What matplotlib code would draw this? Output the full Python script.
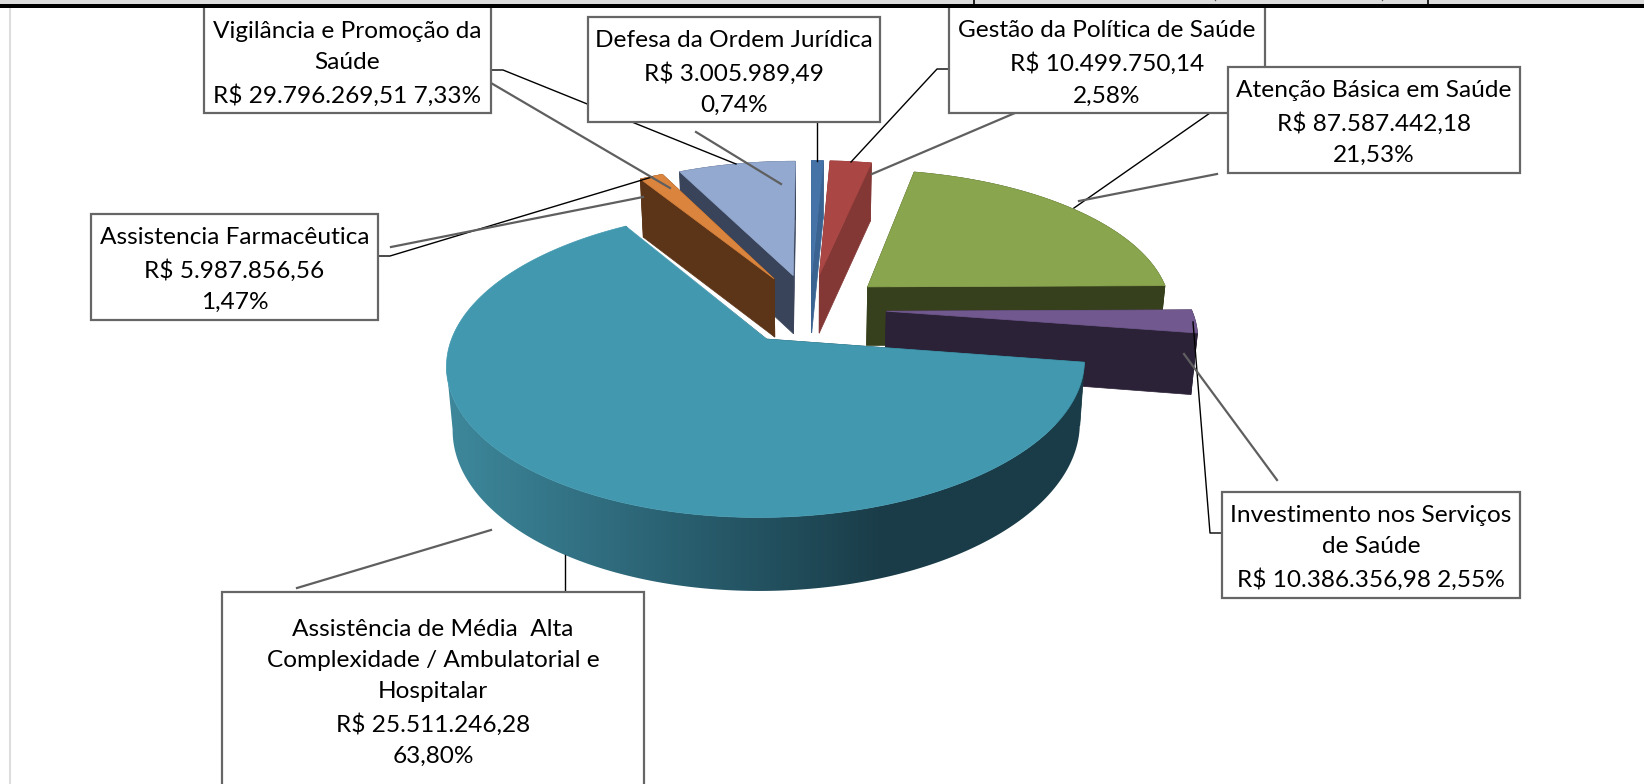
import numpy as np
import matplotlib
matplotlib.use("Agg")
import matplotlib.pyplot as plt
from matplotlib.patches import Polygon, Rectangle

plt.rcParams['font.family'] = ['Lato', 'DejaVu Sans']

# data, clockwise from 12 o'clock
names = ["Defesa da Ordem Jurídica",
         "Gestão da Política de Saúde",
         "Atenção Básica em Saúde",
         "Investimento nos Serviços\nde Saúde",
         "Assistência de Média  Alta\nComplexidade / Ambulatorial e\nHospitalar",
         "Assistencia Farmacêutica",
         "Vigilância e Promoção da\nSaúde"]
amounts = ["R$ 3.005.989,49", "R$ 10.499.750,14", "R$ 87.587.442,18",
           "R$ 10.386.356,98", "R$ 25.511.246,28", "R$ 5.987.856,56",
           "R$ 29.796.269,51"]
percents = [0.74, 2.58, 21.53, 2.55, 63.80, 1.47, 7.33]
one_line = [False, False, False, True, False, False, True]  # value and % on same line

top_colors = ["#4572a7", "#aa4643", "#89a54e", "#71588f", "#4198af", "#db843d", "#93a9cf"]
wall_colors = ["#3a6391", "#843836", "#37401c", "#2c2238", "#1a3c48", "#5c3417", "#39445a"]
draw_order = [6, 5, 0, 1, 2, 3, 4]  # back to front

# label boxes: left, top, right, bottom
boxes = [(588, 17, 880, 122), (949, 3, 1265, 113), (1228, 67, 1520, 173),
         (1222, 492, 1520, 598), (222, 592, 644, 810), (91, 214, 378, 320),
         (204, 3, 491, 113)]
text_y = [73, 63.5, 123, 548, 693, 270, 64]

# leader lines
black_lines = [[(491, 70), (503, 70), (736, 164)],
               [(817, 122), (817, 161)],
               [(378, 256), (390, 256), (652, 177)],
               [(949, 69), (937, 69), (851, 162)],
               [(1210, 113), (1074, 208)],
               [(1222, 533), (1210, 533), (1193, 322)],
               [(565, 555), (565, 592)]]
grey_lines = [[(491, 83), (670, 188)],
              [(696, 132), (781, 184)],
              [(391, 247), (643, 197)],
              [(1015, 113), (872, 174)],
              [(1217, 174), (1079, 201)],
              [(1184, 354), (1277, 480)],
              [(297, 588), (491, 530)]]

# pie geometry in pixels
cx, cy = 810, 308.7
rx, ry = 305, 141
persp = 0.152
depth = 60
explode = 0.25


def project(u, v, low=0.0):
    """Ground plane (u, v) to picture coordinates, low=1 is the bottom face."""
    s = 1 / (1 - persp * v)
    x = cx + rx * u * s * (1 - 0.017 * low)
    y = cy + ry * v * s + depth * low * np.maximum(s, 0.97)
    return x, y


def wall_shade(x):
    """Shading of the big slice's rim, light on the left, dark from x=885."""
    stops = [446, 655, 885]
    r = np.interp(x, stops, [0x3e, 0x2b, 0x1a])
    g = np.interp(x, stops, [0x88, 0x64, 0x3c])
    b = np.interp(x, stops, [0x9c, 0x75, 0x48])
    return np.stack([r, g, b], axis=-1) / 255


fig = plt.figure(figsize=(16.44, 7.84), dpi=100)
ax = fig.add_axes([0, 0, 1, 1])

bounds = np.concatenate([[0], np.cumsum(percents)]) / sum(percents) * 2 * np.pi

for i in draw_order:
    a0, a1 = bounds[i], bounds[i + 1]
    mid = (a0 + a1) / 2
    ou, ov = explode * np.sin(mid), -explode * np.cos(mid)
    ang = np.linspace(a0, a1, max(int(np.degrees(a1 - a0)) * 2, 4))
    u = ou + np.sin(ang)
    v = ov - np.cos(ang)

    # side walls
    for e_u, e_v in [(u[0], v[0]), (u[-1], v[-1])]:
        pts = [project(ou, ov), project(e_u, e_v), project(e_u, e_v, 1), project(ou, ov, 1)]
        ax.add_patch(Polygon(pts, closed=True, fc=wall_colors[i], ec=wall_colors[i], lw=0.5, zorder=2))

    # rim
    tx, ty = project(u, v)
    bx, by = project(u, v, 1)
    if i == 4:
        # only the part facing us, up to the left extreme, else the outline folds over itself
        k = np.argmin(tx) + 1
        rim = np.r_[np.c_[tx[:k], ty[:k]], np.c_[bx[:k], by[:k]][::-1]]
        rim_patch = Polygon(rim, closed=True, fc="none", ec="none", zorder=2)
        ax.add_patch(rim_patch)
        grad_x = np.linspace(rim[:, 0].min(), rim[:, 0].max(), 400)
        im = ax.imshow(wall_shade(grad_x)[np.newaxis, :, :], aspect="auto", zorder=2,
                       extent=[grad_x[0], grad_x[-1], rim[:, 1].max(), rim[:, 1].min()])
        im.set_clip_path(rim_patch)
    else:
        rim = np.r_[np.c_[tx, ty], np.c_[bx, by][::-1]]
        ax.add_patch(Polygon(rim, closed=True, fc=wall_colors[i], ec=wall_colors[i], lw=0.5, zorder=2))

    # top face
    xs, ys = project(np.r_[ou, u], np.r_[ov, v])
    if i == 4:
        ax.plot([xs[0] - 1, xs[-1] + 1], [ys[0] + 2, ys[-1] + 2], color="white", lw=3,
                zorder=2, solid_capstyle="butt")
    ax.add_patch(Polygon(np.c_[xs, ys], closed=True, fc=top_colors[i], ec=top_colors[i], lw=0.5, zorder=2))

for line in black_lines:
    pts = np.array(line)
    ax.plot(pts[:, 0], pts[:, 1], color="black", lw=1.0, zorder=3)
for line in grey_lines:
    pts = np.array(line)
    ax.plot(pts[:, 0], pts[:, 1], color="#5f5f5f", lw=1.6, zorder=3)

for i in [6, 0, 1, 2, 3, 5, 4]:
    l, t, r, b = boxes[i]
    ax.add_patch(Rectangle((l, t), r - l, b - t, fc="white", ec="#666666", lw=1.6, zorder=4))
    sep = " " if one_line[i] else "\n"
    label = names[i] + "\n" + amounts[i] + sep + f"{percents[i]:.2f}".replace(".", ",") + "%"
    ax.text((l + r) / 2, text_y[i], label, ha="center", va="center", fontsize=17.6,
            linespacing=1.6, color="black", zorder=5)

# page furniture above the chart
ax.add_patch(Rectangle((0, 0), 1644, 4, fc="#dcdcdc", ec="none", zorder=6))
ax.add_patch(Rectangle((0, 4), 1644, 3.5, fc="black", ec="none", zorder=6))
for x in [974, 1428]:
    ax.plot([x, x], [0, 5], color="black", lw=1.2, zorder=6, solid_capstyle="butt")
for x in [1215, 1382]:
    ax.plot([x, x + 1], [0, 1], color="#555555", lw=0.8, zorder=6, solid_capstyle="butt")
ax.plot([10, 10], [8, 784], color="#dddddd", lw=1.5, zorder=1)

ax.set_xlim(0, 1644)
ax.set_ylim(784, 0)
ax.set_axis_off()

fig.savefig("out.png", dpi=100, facecolor="white")
